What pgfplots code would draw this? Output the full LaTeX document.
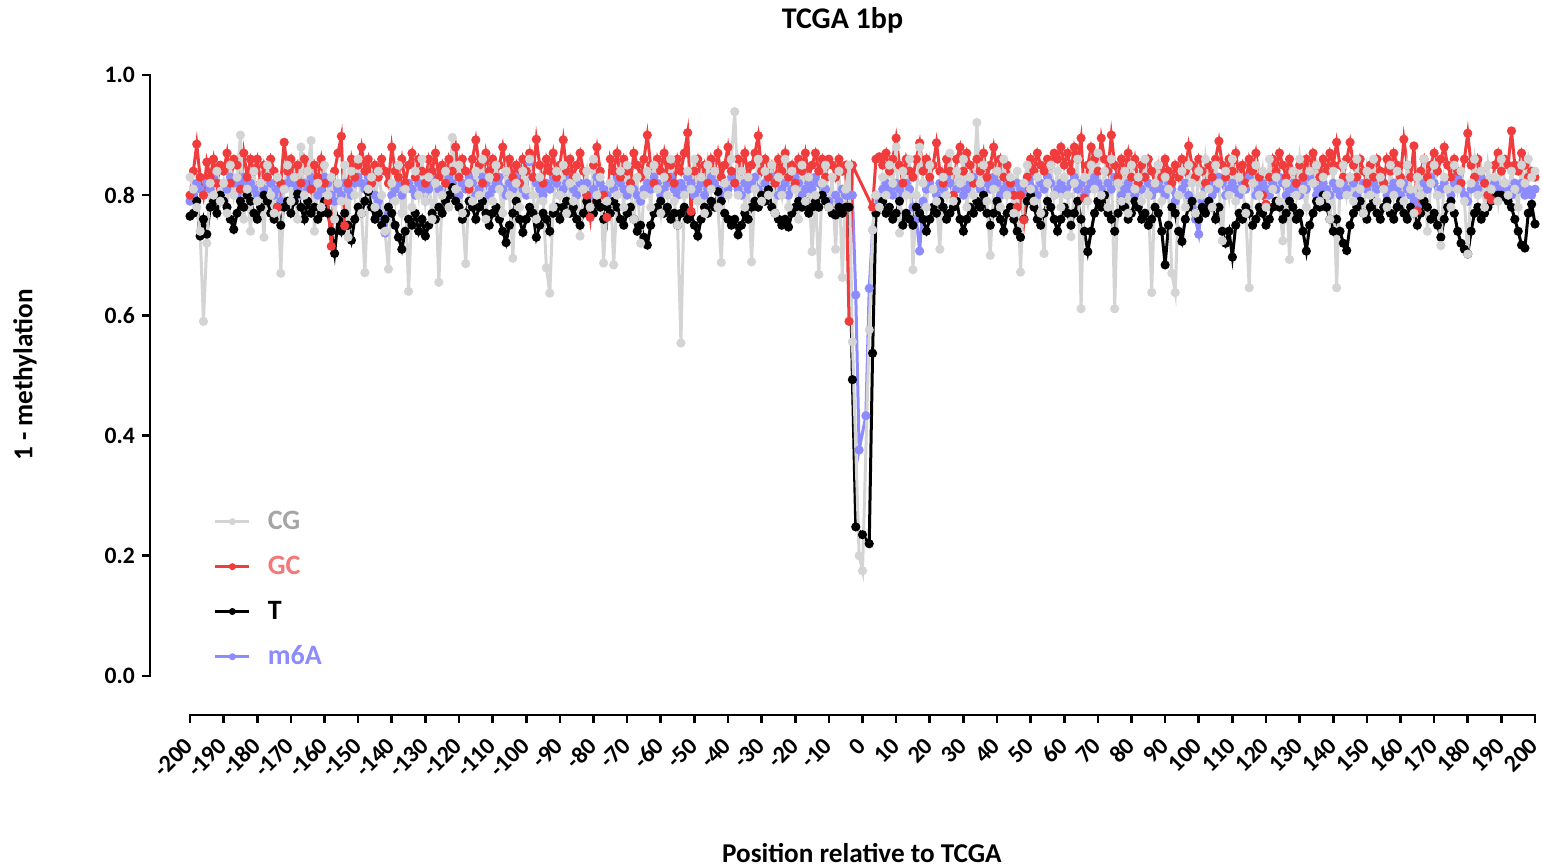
\documentclass[border=0pt]{standalone}
\usepackage{pgfplots}
\pgfplotsset{compat=1.18}
\usepackage{pgfplotstable}
\usepackage{fontspec}
\setmainfont{Carlito}
\definecolor{cgcol}{RGB}{212,212,212}
\definecolor{cgtxt}{RGB}{165,165,165}
\definecolor{gccol}{RGB}{240,60,60}
\definecolor{gctxt}{RGB}{245,120,120}
\definecolor{tcol}{RGB}{0,0,0}
\definecolor{mcol}{RGB}{140,140,255}
\pgfplotstableread{
x cg gc t m
-200 0.83 0.80 0.765 0.79
-199 0.81 0.84 0.77 0.80
-198 0.78 0.885 0.79 0.82
-197 0.74 0.83 0.732 0.81
-196 0.59 0.80 0.76 0.80
-195 0.72 0.855 0.735 0.82
-194 0.82 0.83 0.78 0.81
-193 0.80 0.86 0.79 0.83
-192 0.84 0.82 0.77 0.82
-191 0.79 0.85 0.80 0.80
-190 0.82 0.84 0.79 0.82
-189 0.77 0.87 0.78 0.81
-188 0.85 0.82 0.76 0.83
-187 0.80 0.86 0.743 0.82
-186 0.83 0.85 0.77 0.80
-185 0.90 0.81 0.79 0.82
-184 0.76 0.87 0.78 0.83
-183 0.81 0.83 0.80 0.81
-182 0.74 0.86 0.79 0.82
-181 0.84 0.84 0.77 0.81
-180 0.79 0.86 0.76 0.80
-179 0.82 0.82 0.78 0.82
-178 0.73 0.85 0.80 0.81
-177 0.85 0.83 0.79 0.83
-176 0.80 0.86 0.77 0.82
-175 0.77 0.84 0.76 0.80
-174 0.83 0.78 0.78 0.81
-173 0.67 0.82 0.75 0.79
-172 0.81 0.888 0.78 0.81
-171 0.85 0.84 0.79 0.82
-170 0.79 0.86 0.77 0.83
-169 0.83 0.83 0.79 0.82
-168 0.76 0.85 0.802 0.81
-167 0.88 0.82 0.78 0.80
-166 0.80 0.86 0.76 0.82
-165 0.84 0.84 0.79 0.81
-164 0.891 0.81 0.77 0.83
-163 0.74 0.85 0.78 0.82
-162 0.82 0.83 0.76 0.80
-161 0.78 0.86 0.77 0.81
-160 0.85 0.82 0.79 0.83
-159 0.80 0.79 0.77 0.82
-158 0.83 0.715 0.74 0.80
-157 0.76 0.84 0.703 0.79
-156 0.82 0.87 0.76 0.81
-155 0.79 0.898 0.74 0.80
-154 0.85 0.749 0.77 0.82
-153 0.73 0.82 0.75 0.81
-152 0.84 0.86 0.725 0.80
-151 0.80 0.83 0.76 0.82
-150 0.86 0.85 0.78 0.83
-149 0.77 0.88 0.77 0.82
-148 0.671 0.84 0.79 0.81
-147 0.81 0.86 0.806 0.83
-146 0.83 0.82 0.78 0.82
-145 0.78 0.85 0.76 0.80
-144 0.84 0.83 0.77 0.79
-143 0.80 0.86 0.75 0.76
-142 0.74 0.84 0.76 0.737
-141 0.677 0.82 0.78 0.77
-140 0.82 0.88 0.77 0.80
-139 0.79 0.84 0.75 0.81
-138 0.85 0.83 0.73 0.82
-137 0.77 0.86 0.71 0.80
-136 0.81 0.82 0.74 0.81
-135 0.640 0.85 0.76 0.82
-134 0.78 0.87 0.75 0.81
-133 0.84 0.83 0.77 0.80
-132 0.80 0.86 0.74 0.82
-131 0.86 0.84 0.76 0.81
-130 0.79 0.82 0.732 0.79
-129 0.83 0.86 0.75 0.81
-128 0.76 0.84 0.77 0.82
-127 0.82 0.87 0.76 0.83
-126 0.655 0.83 0.78 0.81
-125 0.80 0.85 0.77 0.80
-124 0.84 0.82 0.79 0.82
-123 0.78 0.86 0.80 0.83
-122 0.896 0.84 0.813 0.82
-121 0.81 0.88 0.79 0.81
-120 0.85 0.83 0.78 0.80
-119 0.77 0.86 0.76 0.82
-118 0.686 0.84 0.77 0.81
-117 0.82 0.81 0.79 0.83
-116 0.79 0.86 0.78 0.82
-115 0.84 0.892 0.76 0.80
-114 0.80 0.85 0.78 0.81
-113 0.86 0.82 0.79 0.83
-112 0.76 0.87 0.77 0.82
-111 0.83 0.84 0.75 0.80
-110 0.79 0.86 0.77 0.81
-109 0.85 0.83 0.78 0.82
-108 0.81 0.85 0.76 0.83
-107 0.77 0.88 0.74 0.81
-106 0.84 0.84 0.721 0.80
-105 0.80 0.86 0.75 0.82
-104 0.695 0.83 0.77 0.81
-103 0.82 0.85 0.79 0.83
-102 0.78 0.82 0.76 0.82
-101 0.84 0.86 0.738 0.81
-100 0.81 0.84 0.76 0.80
-99 0.86 0.87 0.78 0.856
-98 0.80 0.83 0.77 0.83
-97 0.76 0.893 0.73 0.82
-96 0.83 0.85 0.75 0.81
-95 0.79 0.82 0.77 0.80
-94 0.679 0.86 0.76 0.82
-93 0.637 0.84 0.74 0.81
-92 0.78 0.87 0.77 0.83
-91 0.84 0.83 0.78 0.82
-90 0.80 0.85 0.76 0.80
-89 0.85 0.892 0.78 0.81
-88 0.77 0.84 0.79 0.82
-87 0.82 0.86 0.77 0.83
-86 0.79 0.83 0.78 0.81
-85 0.83 0.85 0.76 0.80
-84 0.732 0.87 0.75 0.82
-83 0.81 0.84 0.77 0.81
-82 0.84 0.80 0.79 0.82
-81 0.78 0.763 0.78 0.80
-80 0.86 0.85 0.77 0.81
-79 0.80 0.88 0.79 0.83
-78 0.83 0.84 0.78 0.82
-77 0.687 0.80 0.76 0.81
-76 0.79 0.763 0.78 0.80
-75 0.82 0.86 0.77 0.82
-74 0.684 0.84 0.79 0.81
-73 0.80 0.87 0.78 0.83
-72 0.84 0.83 0.76 0.82
-71 0.78 0.86 0.75 0.81
-70 0.85 0.84 0.77 0.80
-69 0.81 0.82 0.78 0.82
-68 0.76 0.87 0.76 0.81
-67 0.83 0.85 0.74 0.80
-66 0.72 0.83 0.75 0.79
-65 0.80 0.86 0.73 0.81
-64 0.84 0.90 0.717 0.82
-63 0.78 0.85 0.75 0.81
-62 0.85 0.82 0.77 0.83
-61 0.81 0.86 0.78 0.82
-60 0.77 0.84 0.79 0.80
-59 0.83 0.87 0.77 0.81
-58 0.80 0.83 0.78 0.82
-57 0.86 0.85 0.76 0.83
-56 0.79 0.82 0.77 0.81
-55 0.75 0.86 0.75 0.80
-54 0.554 0.84 0.77 0.82
-53 0.80 0.87 0.78 0.81
-52 0.84 0.904 0.76 0.83
-51 0.81 0.773 0.77 0.82
-50 0.86 0.84 0.75 0.80
-49 0.79 0.86 0.732 0.81
-48 0.83 0.83 0.76 0.82
-47 0.77 0.85 0.78 0.80
-46 0.85 0.82 0.77 0.81
-45 0.81 0.86 0.79 0.83
-44 0.84 0.84 0.78 0.82
-43 0.78 0.87 0.806 0.81
-42 0.688 0.83 0.79 0.80
-41 0.82 0.85 0.77 0.82
-40 0.80 0.88 0.76 0.81
-39 0.86 0.84 0.75 0.83
-38 0.939 0.82 0.76 0.82
-37 0.80 0.86 0.734 0.81
-36 0.84 0.84 0.75 0.80
-35 0.78 0.87 0.77 0.82
-34 0.83 0.83 0.76 0.81
-33 0.689 0.85 0.78 0.82
-32 0.81 0.87 0.79 0.83
-31 0.86 0.899 0.78 0.81
-30 0.79 0.84 0.80 0.80
-29 0.84 0.86 0.79 0.82
-28 0.80 0.83 0.809 0.81
-27 0.85 0.85 0.78 0.83
-26 0.77 0.82 0.77 0.82
-25 0.83 0.86 0.76 0.80
-24 0.80 0.84 0.75 0.81
-23 0.86 0.87 0.76 0.82
-22 0.78 0.83 0.747 0.80
-21 0.84 0.85 0.77 0.81
-20 0.81 0.82 0.78 0.83
-19 0.76 0.86 0.79 0.82
-18 0.85 0.84 0.78 0.80
-17 0.79 0.87 0.79 0.81
-16 0.83 0.83 0.77 0.82
-15 0.706 0.85 0.78 0.81
-14 0.80 0.87 0.79 0.83
-13 0.668 0.84 0.78 0.82
-12 0.82 0.86 0.80 0.80
-11 0.85 0.83 0.79 0.81
-10 0.78 0.86 0.78 0.79
-9 0.83 0.85 0.77 0.77
-8 0.71 0.83 0.767 0.80
-7 0.84 0.86 0.78 0.79
-6 0.663 0.84 0.77 0.81
-5 0.81 0.85 0.78 0.80
-4 0.85 0.59 0.78 0.80
-3 0.556 0.85 0.493 0.80
-2 nan nan 0.248 0.634
-1 0.20 nan nan 0.376
0 0.175 nan 0.235 nan
1 nan nan nan 0.433
2 0.576 nan 0.22 0.645
3 0.742 0.78 0.537 0.742
4 0.80 0.86 0.77 0.80
5 0.78 0.864 0.78 0.79
6 0.83 0.85 0.79 0.81
7 0.80 0.87 0.77 0.82
8 0.85 0.84 0.78 0.81
9 0.82 0.86 0.76 0.80
10 0.88 0.895 0.77 0.82
11 0.737 0.85 0.79 0.81
12 0.84 0.82 0.75 0.80
13 0.80 0.86 0.77 0.82
14 0.86 0.84 0.76 0.81
15 0.676 0.83 0.75 0.78
16 0.80 0.86 0.78 0.76
17 0.88 0.887 0.77 0.707
18 0.82 0.84 0.76 0.79
19 0.78 0.86 0.74 0.81
20 0.85 0.83 0.76 0.82
21 0.81 0.85 0.78 0.81
22 0.79 0.887 0.77 0.80
23 0.71 0.84 0.79 0.82
24 0.83 0.82 0.78 0.81
25 0.80 0.86 0.76 0.83
26 0.87 0.84 0.77 0.82
27 0.79 0.80 0.78 0.80
28 0.84 0.86 0.79 0.81
29 0.82 0.88 0.76 0.82
30 0.86 0.84 0.74 0.80
31 0.78 0.87 0.76 0.81
32 0.83 0.85 0.78 0.82
33 0.80 0.82 0.77 0.83
34 0.921 0.86 0.79 0.82
35 0.82 0.84 0.78 0.81
36 0.85 0.87 0.80 0.80
37 0.79 0.83 0.77 0.82
38 0.70 0.85 0.75 0.81
39 0.81 0.88 0.77 0.83
40 0.84 0.84 0.79 0.82
41 0.78 0.86 0.76 0.80
42 0.86 0.83 0.74 0.81
43 0.80 0.85 0.77 0.82
44 0.83 0.82 0.78 0.81
45 0.77 0.80 0.76 0.80
46 0.84 0.78 0.74 0.82
47 0.672 0.80 0.73 0.81
48 0.82 0.759 0.76 0.80
49 0.85 0.83 0.79 0.82
50 0.81 0.86 0.80 0.83
51 0.79 0.84 0.78 0.81
52 0.83 0.87 0.76 0.80
53 0.77 0.85 0.75 0.82
54 0.703 0.84 0.77 0.81
55 0.82 0.86 0.79 0.83
56 0.85 0.85 0.78 0.82
57 0.80 0.87 0.76 0.80
58 0.84 0.86 0.74 0.81
59 0.78 0.88 0.76 0.82
60 0.83 0.85 0.78 0.81
61 0.80 0.87 0.77 0.80
62 0.731 0.84 0.75 0.82
63 0.82 0.88 0.77 0.83
64 0.86 0.86 0.79 0.81
65 0.611 0.895 0.76 0.82
66 0.83 0.795 0.74 0.80
67 0.79 0.85 0.706 0.81
68 0.85 0.88 0.74 0.82
69 0.81 0.86 0.77 0.83
70 0.87 0.84 0.79 0.82
71 0.80 0.895 0.78 0.81
72 0.84 0.86 0.80 0.80
73 0.78 0.84 0.77 0.82
74 0.86 0.90 0.76 0.81
75 0.611 0.85 0.74 0.83
76 0.82 0.83 0.77 0.82
77 0.79 0.86 0.79 0.80
78 0.84 0.84 0.78 0.81
79 0.77 0.87 0.76 0.82
80 0.85 0.83 0.77 0.81
81 0.81 0.86 0.79 0.80
82 0.83 0.82 0.78 0.82
83 0.79 0.85 0.76 0.81
84 0.86 0.83 0.77 0.83
85 0.80 0.86 0.75 0.82
86 0.638 0.84 0.76 0.80
87 0.82 0.82 0.78 0.81
88 0.85 0.85 0.77 0.82
89 0.79 0.83 0.74 0.81
90 0.83 0.86 0.684 0.80
91 0.81 0.84 0.75 0.82
92 0.67 0.82 0.78 0.81
93 0.638 0.85 0.77 0.79
94 0.80 0.83 0.74 0.80
95 0.84 0.86 0.723 0.81
96 0.78 0.84 0.76 0.82
97 0.85 0.882 0.78 0.80
98 0.82 0.85 0.79 0.78
99 0.77 0.83 0.77 0.76
100 0.84 0.86 0.76 0.735
101 0.80 0.84 0.78 0.79
102 0.86 0.82 0.77 0.81
103 0.81 0.85 0.79 0.82
104 0.78 0.83 0.78 0.80
105 0.85 0.86 0.76 0.81
106 0.82 0.89 0.78 0.83
107 0.724 0.85 0.74 0.82
108 0.84 0.83 0.72 0.80
109 0.80 0.86 0.74 0.81
110 0.86 0.84 0.697 0.82
111 0.79 0.87 0.75 0.81
112 0.83 0.83 0.77 0.80
113 0.81 0.85 0.76 0.82
114 0.77 0.82 0.78 0.81
115 0.646 0.86 0.77 0.83
116 0.82 0.84 0.75 0.82
117 0.85 0.87 0.76 0.80
118 0.80 0.83 0.78 0.81
119 0.84 0.80 0.77 0.82
120 0.78 0.785 0.75 0.81
121 0.86 0.83 0.76 0.80
122 0.81 0.86 0.78 0.82
123 0.83 0.84 0.79 0.81
124 0.79 0.87 0.78 0.83
125 0.724 0.85 0.76 0.82
126 0.82 0.83 0.77 0.80
127 0.693 0.86 0.79 0.81
128 0.84 0.84 0.78 0.82
129 0.80 0.82 0.76 0.81
130 0.86 0.85 0.77 0.80
131 0.81 0.83 0.74 0.82
132 0.78 0.86 0.707 0.81
133 0.84 0.84 0.75 0.83
134 0.82 0.87 0.77 0.82
135 0.85 0.85 0.79 0.80
136 0.79 0.83 0.78 0.81
137 0.83 0.86 0.80 0.82
138 0.80 0.84 0.78 0.81
139 0.76 0.87 0.76 0.80
140 0.84 0.85 0.74 0.82
141 0.646 0.888 0.76 0.81
142 0.82 0.85 0.74 0.80
143 0.85 0.83 0.72 0.82
144 0.80 0.86 0.708 0.81
145 0.83 0.888 0.75 0.83
146 0.79 0.85 0.77 0.82
147 0.86 0.83 0.78 0.80
148 0.81 0.86 0.79 0.81
149 0.77 0.84 0.77 0.82
150 0.84 0.82 0.76 0.81
151 0.80 0.85 0.78 0.80
152 0.86 0.83 0.79 0.82
153 0.79 0.86 0.77 0.81
154 0.83 0.84 0.76 0.83
155 0.81 0.82 0.78 0.82
156 0.78 0.86 0.79 0.80
157 0.85 0.84 0.77 0.81
158 0.80 0.87 0.76 0.82
159 0.84 0.85 0.78 0.81
160 0.82 0.83 0.79 0.80
161 0.79 0.893 0.77 0.82
162 0.85 0.85 0.76 0.81
163 0.81 0.83 0.78 0.80
164 0.77 0.882 0.77 0.79
165 0.83 0.774 0.75 0.78
166 0.80 0.84 0.77 0.80
167 0.86 0.86 0.79 0.82
168 0.74 0.83 0.78 0.81
169 0.82 0.85 0.76 0.83
170 0.85 0.87 0.77 0.82
171 0.80 0.84 0.75 0.80
172 0.716 0.86 0.73 0.81
173 0.83 0.88 0.76 0.82
174 0.81 0.85 0.78 0.81
175 0.78 0.83 0.79 0.80
176 0.85 0.86 0.77 0.82
177 0.81 0.84 0.74 0.83
178 0.84 0.82 0.72 0.81
179 0.79 0.86 0.71 0.80
180 0.702 0.903 0.702 0.79
181 0.82 0.85 0.74 0.81
182 0.86 0.83 0.77 0.82
183 0.80 0.86 0.78 0.81
184 0.84 0.84 0.76 0.83
185 0.78 0.82 0.77 0.82
186 0.85 0.80 0.78 0.80
187 0.81 0.792 0.79 0.81
188 0.83 0.85 0.795 0.82
189 0.79 0.87 0.80 0.81
190 0.86 0.84 0.80 0.80
191 0.82 0.86 0.797 0.82
192 0.80 0.85 0.79 0.81
193 0.84 0.907 0.78 0.80
194 0.81 0.85 0.76 0.82
195 0.78 0.84 0.74 0.81
196 0.85 0.87 0.717 0.82
197 0.82 0.85 0.712 0.80
198 0.86 0.83 0.77 0.81
199 0.83 0.84 0.785 0.80
200 0.84 0.83 0.752 0.81
}\data
\begin{document}
\begin{tikzpicture}
\begin{axis}[
  scale only axis,
  width=692.5pt, height=320pt,
  xmin=-211.9, xmax=200, ymin=-0.065, ymax=1.0,
  clip=false,
  axis lines*=left,
  axis line style={draw=none},
  tick align=outside,
  major tick length=4pt,
  every tick/.style={black, line width=1.3pt},
  xtick={-200,-190,...,200},
  xticklabels={-200,-190,-180,-170,-160,-150,-140,-130,-120,-110,-100,-90,-80,-70,-60,-50,-40,-30,-20,-10,0,10,20,30,40,50,60,70,80,90,100,110,120,130,140,150,160,170,180,190,200},
  ytick={0,0.2,0.4,0.6,0.8,1.0},
  yticklabels={0.0,0.2,0.4,0.6,0.8,1.0},
  xticklabel style={yshift=-7pt, xshift=2pt, rotate=45, anchor=east, font=\fontsize{12}{14}\selectfont\bfseries},
  yticklabel style={font=\fontsize{11.8}{14}\selectfont\bfseries},
  every axis title/.style={at={(rel axis cs:0.5,1.086)}, anchor=center, font=\fontsize{15}{18}\selectfont\bfseries},
  title={TCGA 1bp},
  every axis x label/.style={at={(rel axis cs:0.514,-0.2156)}, anchor=center, font=\fontsize{13.6}{16}\selectfont\bfseries},
  xlabel={Position relative to TCGA},
  every axis y label/.style={at={(rel axis cs:-0.0903,0.531)}, anchor=center, rotate=90, font=\fontsize{13.6}{16}\selectfont\bfseries},
  ylabel={1 - methylation},
  legend style={at={(axis cs:-194.8,0.144)}, anchor=west, draw=none, fill=none, row sep=7.8pt,
    font=\fontsize{14}{16}\selectfont\bfseries},
  legend cell align=left,
]
\addlegendimage{cgcol, line width=1.4pt, mark=*, mark size=1pt}
\addlegendentry{\hspace{6.5pt}\textcolor{cgtxt}{CG}}
\addlegendimage{gccol, line width=1.4pt, mark=*, mark size=1pt}
\addlegendentry{\hspace{6.5pt}\textcolor{gctxt}{GC}}
\addlegendimage{tcol, line width=1.4pt, mark=*, mark size=1pt}
\addlegendentry{\hspace{6.5pt}\textcolor{tcol}{T}}
\addlegendimage{mcol, line width=1.4pt, mark=*, mark size=1pt}
\addlegendentry{\hspace{6.5pt}\textcolor{mcol}{m6A}}
\addplot[forget plot, mcol, line width=1.5pt, mark=*, mark size=1.5pt] table[x=x, y=m] {\data};
\addplot[forget plot, tcol, line width=1.5pt, mark=*, mark size=1.5pt] table[x=x, y=t] {\data};
\addplot[forget plot, gccol, line width=1.5pt, mark=*, mark size=1.5pt] table[x=x, y=gc] {\data};
\addplot[forget plot, cgcol, line width=1.5pt, mark=*, mark size=1.5pt] table[x=x, y=cg] {\data};
\draw[line width=1.3pt, line cap=rect] (axis cs:-211.9,0) -- (axis cs:-211.9,1);
\draw[line width=1.3pt, line cap=rect] (axis cs:-200,-0.065) -- (axis cs:200,-0.065);
\end{axis}
\pgfresetboundingbox
\path[use as bounding box] (-75pt,-76pt) rectangle (696.5pt,357.5pt);
\end{tikzpicture}
\end{document}
